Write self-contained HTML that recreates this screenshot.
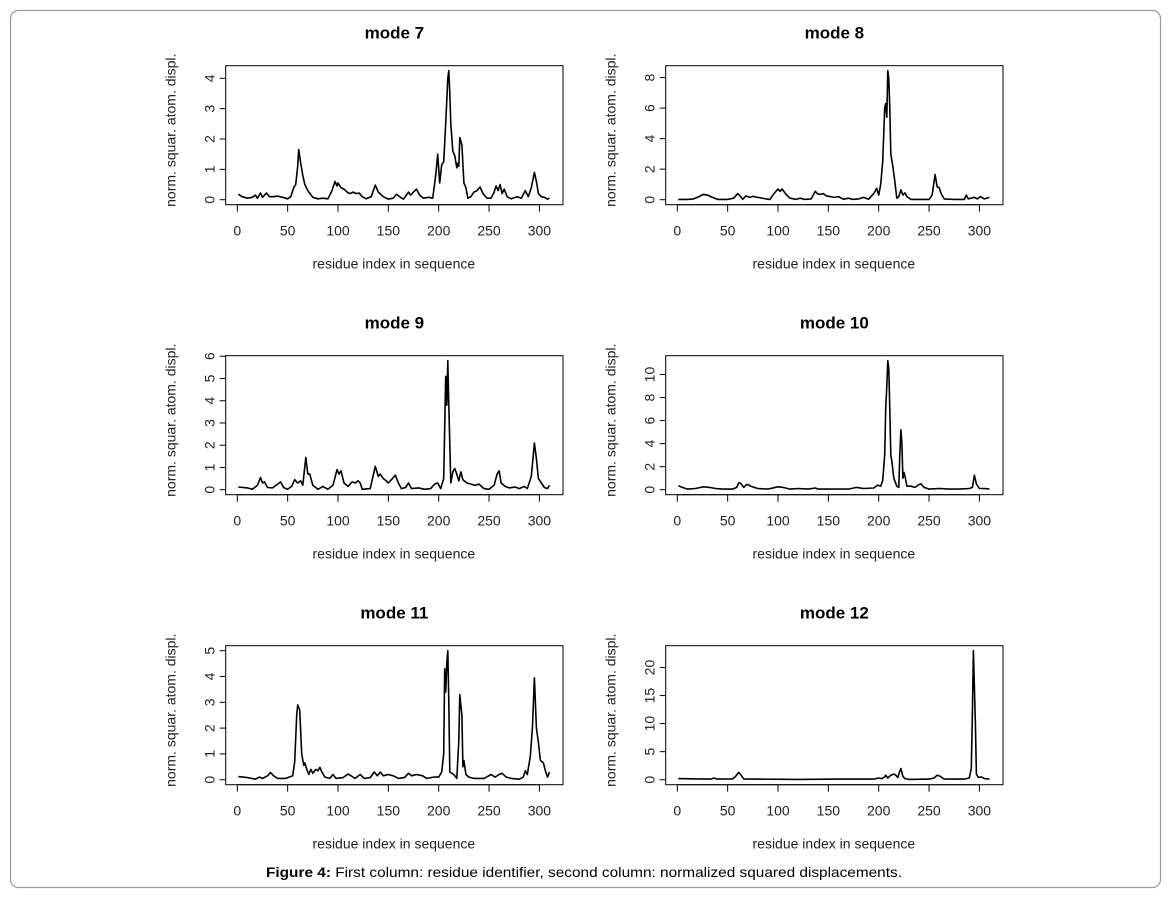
<!DOCTYPE html>
<html><head><meta charset="utf-8">
<style>
html,body{margin:0;padding:0;background:#fff;}
svg{display:block;font-family:"Liberation Sans",Arial,sans-serif;}
</style></head>
<body>
<svg id="fig" width="1173" height="897" viewBox="0 0 1173 897" xmlns="http://www.w3.org/2000/svg">
<rect x="10.5" y="10.5" width="1150" height="877" rx="8" fill="#fff" stroke="#9a9a9a" stroke-width="1.2"/>
<text x="266" y="877" font-size="14" textLength="636" lengthAdjust="spacingAndGlyphs"><tspan font-weight="bold">Figure 4:</tspan> First column: residue identifier, second column: normalized squared displacements.</text>
</svg>
<script>
// ---- data (residue index, normalized squared displacement) ----
const titles = ["mode 7","mode 8","mode 9","mode 10","mode 11","mode 12"];
const xTicks = [0,50,100,150,200,250,300];
const yTicks7 = [0,1,2,3,4];
const yTicks8 = [0,2,4,6,8];
const yTicks9 = [0,1,2,3,4,5,6];
const yTicks10 = [0,2,4,6,8,10];
const yTicks11 = [0,1,2,3,4,5];
const yTicks12 = [0,5,10,15,20];

const res7 = [1,5,10,15,18,20,23,25,29,32,36,40,45,50,53,56,58,60,61,63,65,67,70,75,80,85,90,94,97,99,100,103,106,109,112,115,118,121,124,128,133,137,140,145,150,155,158,162,165,170,172,175,178,181,185,190,194,197,199,201,203,205,207,209,210,211,212,214,216,218,219,220,221,223,225,227,229,232,235,238,241,244,248,252,255,257,259,261,263,265,268,272,278,282,286,289,292,295,297,299,302,305,308,310];
const val7 = [0.18,0.1,0.05,0.08,0.15,0.05,0.22,0.08,0.22,0.1,0.1,0.12,0.08,0.03,0.1,0.4,0.5,1.1,1.65,1.2,0.8,0.5,0.3,0.08,0.03,0.05,0.03,0.3,0.6,0.45,0.55,0.4,0.35,0.25,0.2,0.25,0.2,0.22,0.1,0.03,0.1,0.48,0.25,0.1,0.02,0.05,0.18,0.08,0.02,0.25,0.15,0.25,0.35,0.15,0.05,0.08,0.05,0.8,1.5,0.55,1.15,1.25,2.5,4.0,4.25,3.5,2.5,1.6,1.45,1.05,1.2,1.1,2.05,1.8,0.55,0.4,0.05,0.1,0.25,0.3,0.42,0.2,0.05,0.05,0.25,0.45,0.3,0.5,0.2,0.35,0.1,0.03,0.1,0.05,0.3,0.1,0.4,0.9,0.6,0.2,0.1,0.08,0.02,0.05];

const res8 = [1,10,16,20,26,30,35,40,50,56,60,63,65,68,72,75,80,88,92,96,100,102,104,108,112,118,122,126,133,137,139,142,145,148,152,156,160,165,170,174,180,185,190,195,198,200,202,204,206,207,208,209,210,211,212,214,216,218,220,222,224,226,228,232,240,250,253,255,256,258,260,262,265,275,285,287,289,295,298,301,305,310];
const val8 = [0.02,0.02,0.05,0.15,0.35,0.3,0.15,0.02,0.02,0.1,0.4,0.2,0.02,0.25,0.15,0.22,0.15,0.05,0.02,0.4,0.7,0.55,0.7,0.35,0.1,0.02,0.1,0.02,0.05,0.55,0.4,0.35,0.4,0.25,0.2,0.15,0.2,0.03,0.1,0.02,0.05,0.15,0.03,0.4,0.75,0.3,1.0,2.5,6.0,6.3,5.4,8.45,7.9,6.0,3.0,2.2,1.2,0.1,0.2,0.65,0.3,0.45,0.2,0.02,0.02,0.02,0.3,1.2,1.65,0.85,0.8,0.4,0.05,0.02,0.02,0.3,0.05,0.15,0.05,0.2,0.05,0.15];

const res9 = [1,10,15,20,23,25,27,30,35,40,43,46,50,54,57,60,63,65,68,70,72,75,80,85,90,95,99,101,103,106,110,114,117,120,122,124,132,137,140,142,145,148,150,153,157,160,163,167,170,173,180,186,192,196,199,202,205,207,208,209,210,212,214,216,218,220,222,224,228,232,236,240,245,250,255,258,260,262,266,270,276,280,285,288,292,295,297,299,302,305,308,310];
const val9 = [0.12,0.08,0.02,0.2,0.55,0.3,0.35,0.1,0.08,0.25,0.35,0.1,0.02,0.15,0.45,0.3,0.4,0.2,1.45,0.7,0.7,0.2,0.02,0.15,0.02,0.2,0.9,0.7,0.85,0.3,0.15,0.35,0.3,0.4,0.3,0.02,0.05,1.05,0.6,0.7,0.5,0.4,0.3,0.45,0.65,0.3,0.05,0.1,0.3,0.05,0.08,0.02,0.05,0.25,0.3,0.05,0.5,5.1,3.8,5.8,3.8,0.3,0.8,0.95,0.7,0.4,0.8,0.45,0.3,0.25,0.2,0.25,0.05,0.02,0.2,0.7,0.85,0.3,0.15,0.08,0.12,0.05,0.15,0.05,0.6,2.1,1.4,0.5,0.3,0.1,0.05,0.2];

const res10 = [1,5,10,18,26,32,38,45,55,59,61,63,66,68,70,73,80,90,100,105,112,120,130,137,140,150,160,170,178,185,195,199,202,204,206,207,208,209,210,211,212,213,215,218,220,221,222,223,224,225,226,228,232,236,240,242,245,250,260,270,280,290,293,295,297,300,305,310];
const val10 = [0.35,0.2,0.05,0.1,0.25,0.2,0.1,0.05,0.05,0.2,0.6,0.55,0.2,0.4,0.45,0.3,0.1,0.05,0.25,0.2,0.05,0.1,0.05,0.15,0.05,0.05,0.05,0.05,0.2,0.1,0.15,0.4,0.3,0.8,3.0,7.0,9.0,11.2,10.5,7.0,3.0,2.5,1.0,0.3,0.2,3.0,5.2,4.0,1.0,1.5,1.2,0.3,0.3,0.2,0.45,0.5,0.2,0.05,0.1,0.05,0.05,0.1,0.2,1.25,0.5,0.1,0.1,0.05];

const res11 = [1,10,18,22,25,30,33,36,40,48,55,57,59,60,62,64,66,67,69,71,73,75,78,80,82,84,87,92,95,98,105,110,113,117,122,126,132,136,139,142,145,150,155,160,166,170,173,178,184,188,195,200,203,205,206,207,208,209,210,211,215,218,220,221,223,224,225,227,230,235,245,252,256,260,263,267,272,280,284,286,288,291,293,295,297,299,301,304,306,308,310];
const val11 = [0.12,0.08,0.02,0.1,0.05,0.15,0.28,0.15,0.05,0.05,0.15,0.7,2.5,2.9,2.7,1.0,0.55,0.65,0.4,0.2,0.4,0.25,0.4,0.35,0.48,0.3,0.1,0.05,0.2,0.05,0.08,0.22,0.15,0.05,0.2,0.05,0.08,0.3,0.15,0.3,0.15,0.2,0.15,0.05,0.08,0.25,0.15,0.2,0.15,0.05,0.1,0.1,0.3,1.0,4.3,3.4,4.5,5.0,3.0,0.3,0.2,0.05,1.5,3.3,2.5,0.5,0.75,0.2,0.1,0.05,0.05,0.2,0.1,0.2,0.25,0.1,0.05,0.02,0.1,0.35,0.2,0.9,2.0,3.95,2.0,1.45,0.75,0.65,0.35,0.1,0.3];

const res12 = [1,20,34,36,40,55,58,61,63,66,80,120,160,195,200,203,206,207,209,212,215,217,219,221,222,224,226,230,250,255,258,261,265,285,290,292,293,294,296,297,299,302,305,310];
const val12 = [0.2,0.15,0.1,0.3,0.1,0.15,0.6,1.3,0.9,0.1,0.1,0.05,0.1,0.1,0.3,0.2,0.5,0.8,0.3,0.8,1.0,0.8,0.4,1.5,2.0,0.6,0.2,0.05,0.1,0.3,0.8,0.6,0.1,0.1,0.3,2.0,12.0,23.0,10.0,1.0,0.4,0.5,0.2,0.1];

const resList = [res7,res8,res9,res10,res11,res12];
const valList = [val7,val8,val9,val10,val11,val12];
const yTickList = [yTicks7,yTicks8,yTicks9,yTicks10,yTicks11,yTicks12];

// ---- drawing ----
const NS = "http://www.w3.org/2000/svg";
const svg = document.getElementById('fig');
function mk(tag, attrs, parent){
  const e = document.createElementNS(NS, tag);
  for (const k in attrs) e.setAttribute(k, attrs[k]);
  (parent||svg).appendChild(e);
  return e;
}
const BOX_W = 337.3, BOX_H = 139;
for (let p = 0; p < 6; p++) {
  const col = p % 2, row = Math.floor(p / 2);
  const left = col === 0 ? 225.7 : 665.7;
  const top = 65.7 + row * 290;
  const res = resList[p], vals = valList[p], yt = yTickList[p];
  const ymax = Math.max(...vals);
  const xScale = v => left + 11.6 + v * 1.007;
  const yScale = v => top + 134 - v * (129 / ymax);

  const g = mk('g', {});
  
  

  const t = mk('text', {x: left + BOX_W / 2, y: top - 27, 'text-anchor': 'middle', 'font-size': 17, 'font-weight': 'bold'}, g);
  t.textContent = titles[p];
  
  

  // line
  let d = '';
  for (let i = 0; i < res.length; i++) d += (i ? 'L' : 'M') + xScale(res[i]).toFixed(1) + ',' + yScale(vals[i]).toFixed(1);
  const line = mk('path', {d: d, fill: 'none', stroke: '#000', 'stroke-width': 1.6, 'stroke-linejoin': 'round'}, g);
  
  

  const box = mk('rect', {x: left, y: top, width: BOX_W, height: BOX_H, fill: 'none', stroke: '#000', 'stroke-width': 1}, g);
  
  

  // x axis
  const xa = mk('g', {}, g);
  
  
  const xb = top + BOX_H;
  mk('line', {x1: xScale(xTicks[0]), x2: xScale(xTicks[xTicks.length - 1]), y1: xb, y2: xb, stroke: '#000'}, xa);
  xTicks.forEach(v => {
    mk('line', {x1: xScale(v), x2: xScale(v), y1: xb, y2: xb + 7, stroke: '#000'}, xa);
    const lt = mk('text', {x: xScale(v), y: xb + 31, 'text-anchor': 'middle', 'font-size': 14, fill: '#222'}, xa);
    lt.textContent = v;
    
    
  });
  const xt = mk('text', {x: left + BOX_W / 2 - 0.5, y: top + 203, 'text-anchor': 'middle', 'font-size': 14, fill: '#222'}, g);
  xt.textContent = 'residue index in sequence';
  
  

  // y axis
  const ya = mk('g', {}, g);
  
  
  yt.forEach(v => {
    const y = yScale(v);
    mk('line', {x1: left - 6, x2: left, y1: y, y2: y, stroke: '#000'}, ya);
    const lt = mk('text', {x: left - 16, y: y, 'text-anchor': 'middle', 'font-size': 14, fill: '#222', transform: 'rotate(-90 ' + (left - 16) + ' ' + y + ')', dy: 5}, ya);
    lt.textContent = v;
    
    
  });
  const yx = left - 50, yy = top + BOX_H / 2 - 5;
  const ytl = mk('text', {x: yx, y: yy, 'text-anchor': 'middle', 'font-size': 14, fill: '#222', transform: 'rotate(-90 ' + yx + ' ' + yy + ')'}, g);
  ytl.textContent = 'norm. squar. atom. displ.';
  
  
}
</script>
</body></html>
